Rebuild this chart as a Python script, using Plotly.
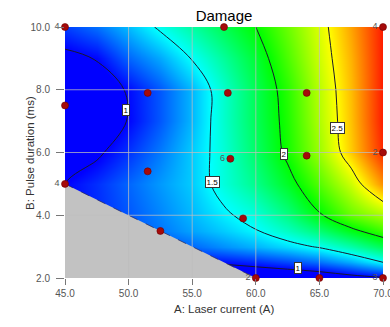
import plotly.graph_objects as go

# ---- data ----
laser_current = [45, 47.5, 50, 52.5, 55, 57.5, 60, 62.5, 65, 67.5, 70]
pulse_duration = [2, 2.5, 3, 3.5, 4, 5, 6, 7, 8, 9, 10]
damage = [
    [0.75, 0.76, 0.77, 0.78, 0.79, 0.80, 0.80, 0.82, 0.85, 0.92, 0.98],
    [0.90, 0.93, 0.96, 0.99, 1.01, 1.03, 1.08, 1.14, 1.22, 1.34, 1.50],
    [0.95, 1.00, 1.06, 1.12, 1.20, 1.28, 1.35, 1.43, 1.52, 1.66, 1.83],
    [1.00, 1.07, 1.15, 1.23, 1.32, 1.40, 1.49, 1.62, 1.77, 1.95, 2.12],
    [1.00, 1.08, 1.17, 1.26, 1.36, 1.47, 1.57, 1.75, 1.98, 2.20, 2.33],
    [1.00, 1.09, 1.20, 1.30, 1.40, 1.57, 1.73, 1.93, 2.16, 2.40, 2.72],
    [0.87, 0.97, 1.10, 1.24, 1.40, 1.58, 1.80, 2.04, 2.30, 2.60, 2.92],
    [0.80, 0.86, 1.01, 1.17, 1.36, 1.60, 1.83, 2.06, 2.34, 2.62, 2.95],
    [0.82, 0.88, 1.02, 1.17, 1.36, 1.60, 1.84, 2.08, 2.36, 2.63, 2.95],
    [0.95, 1.01, 1.20, 1.33, 1.51, 1.70, 1.90, 2.15, 2.40, 2.65, 2.95],
    [1.12, 1.22, 1.37, 1.53, 1.68, 1.84, 2.00, 2.21, 2.43, 2.68, 2.95],
]
contour_levels = [1.0, 1.5, 2.0, 2.5]

design_A = [45, 45, 45, 51.5, 51.5, 52.5, 57.5, 57.8, 58.0, 59.0, 64.0, 64.0, 70, 70, 60, 65, 70]
design_B = [10, 7.5, 5.0, 7.9, 5.4, 3.5, 10, 7.9, 5.8, 3.9, 7.9, 5.9, 10, 6.0, 2, 2, 2]
design_reps = ["4", "", "4", "", "", "", "", "", "6", "", "", "", "4", "2", "2", "", "3"]

constraint_A = [45, 60]
constraint_B = [5, 2]

x_ticks = [45, 50, 55, 60, 65, 70]
y_ticks = [2, 4, 6, 8, 10]

# contour label placements: (text, A, B)
label_text = ["1", "1.5", "2", "2.5", "1"]
label_A = [49.8, 56.6, 62.2, 66.4, 63.3]
label_B = [7.35, 5.07, 5.94, 6.78, 2.31]

FONT = "Liberation Sans, Arial, sans-serif"
xmin, xmax = x_ticks[0], x_ticks[-1]
ymin, ymax = y_ticks[0], y_ticks[-1]

jet = [[0.0, "rgb(0,0,255)"], [0.25, "rgb(0,255,255)"], [0.5, "rgb(0,255,0)"],
       [0.75, "rgb(255,255,0)"], [1.0, "rgb(255,0,0)"]]

W, H = 390, 327
L, R, T, B = 65, 7, 27, 49
pw, ph = W - L - R, H - T - B

fig = go.Figure()

fig.add_trace(go.Heatmap(
    x=laser_current, y=pulse_duration, z=damage,
    zmin=1.0, zmax=3.0, zsmooth="best", colorscale=jet,
    showscale=False, hoverinfo="skip"))

fig.add_trace(go.Contour(
    x=laser_current, y=pulse_duration, z=damage,
    contours=dict(start=contour_levels[0], end=contour_levels[-1],
                  size=contour_levels[1] - contour_levels[0], coloring="none"),
    line=dict(color="rgb(25,25,45)", width=1, smoothing=1.0),
    showscale=False, hoverinfo="skip"))

# infeasible region
fig.add_trace(go.Scatter(
    x=constraint_A + [xmin, constraint_A[0]],
    y=constraint_B + [ymin, constraint_B[0]],
    fill="toself", fillcolor="rgb(194,194,194)", mode="lines",
    line=dict(width=0, color="rgb(194,194,194)"), hoverinfo="skip",
    showlegend=False))
fig.add_trace(go.Scatter(
    x=constraint_A, y=constraint_B, mode="lines",
    line=dict(color="rgba(40,40,90,0.7)", width=1, dash="dash"),
    hoverinfo="skip", showlegend=False))

# grid lines drawn above the fill
gx, gy = [], []
for t in x_ticks[1:-1]:
    gx += [t, t, None]
    gy += [ymin, ymax, None]
for t in y_ticks[1:-1]:
    gx += [xmin, xmax, None]
    gy += [t, t, None]
fig.add_trace(go.Scatter(
    x=gx, y=gy, mode="lines",
    line=dict(color="rgba(190,190,190,0.75)", width=1),
    hoverinfo="skip", showlegend=False))

# design points
fig.add_trace(go.Scatter(
    x=design_A, y=design_B, mode="markers+text", text=design_reps,
    textposition="middle left",
    textfont=dict(family=FONT, size=9, color="#555555"),
    marker=dict(size=7, color="rgb(165,10,10)",
                line=dict(color="rgb(110,0,0)", width=0.6)),
    cliponaxis=False, showlegend=False, hoverinfo="skip"))

annotations = []
for t, a, b in zip(label_text, label_A, label_B):
    annotations.append(dict(
        x=a, y=b, xref="x", yref="y", text=t, showarrow=False,
        font=dict(family=FONT, size=8, color="black"),
        bgcolor="white", bordercolor="#333333", borderwidth=1, borderpad=0.5))

# axis titles placed in pixel terms, converted to paper coords
annotations.append(dict(
    x=(224 - L) / pw, y=(H - 316.5 - B) / ph, xref="paper", yref="paper",
    text="A: Laser current (A)", showarrow=False,
    font=dict(family=FONT, size=11.5, color="#333333")))
annotations.append(dict(
    x=(22 - L) / pw, y=(H - 153 - B) / ph, xref="paper", yref="paper",
    text="B: Pulse duration (ms)", textangle=-90, showarrow=False,
    font=dict(family=FONT, size=11.5, color="#333333")))

fig.update_layout(
    width=W, height=H,
    margin=dict(l=L, r=R, t=T, b=B, autoexpand=False),
    paper_bgcolor="white", plot_bgcolor="white",
    title=dict(text="Damage", x=224 / W, xanchor="center",
               y=1 - 16 / H, yanchor="middle", yref="container",
               automargin=False,
               font=dict(family=FONT, size=15, color="black")),
    annotations=annotations,
    showlegend=False,
)
fig.update_xaxes(range=[xmin, xmax], tickvals=x_ticks, tickformat=".1f",
                 automargin=False, ticklabeloverflow="allow",
                 showgrid=False, zeroline=False, showline=False,
                 ticks="outside", ticklen=6, tickcolor="#777777",
                 tickfont=dict(family=FONT, size=10, color="#555555"))
fig.update_yaxes(range=[ymin, ymax], tickvals=y_ticks, tickformat=".1f",
                 automargin=False, ticklabeloverflow="allow",
                 showgrid=False, zeroline=False, showline=False,
                 ticks="outside", ticklen=8, tickcolor="#777777",
                 ticklabelstandoff=4,
                 tickfont=dict(family=FONT, size=10, color="#555555"))

fig.write_html(
    "out.html",
    config={"displayModeBar": False},
    post_script="document.body.style.margin='0';document.body.style.overflow='hidden';",
)
